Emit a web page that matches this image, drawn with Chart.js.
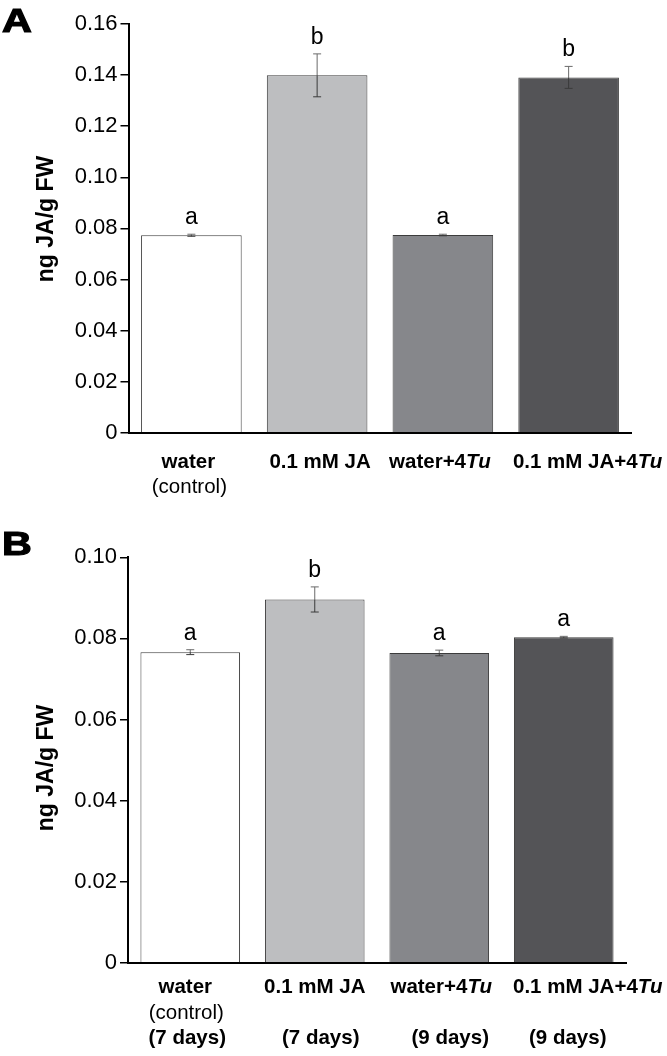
<!DOCTYPE html>
<html><head><meta charset="utf-8">
<script src="https://cdn.jsdelivr.net/npm/chart.js@4.4.1/dist/chart.umd.min.js"></script>
<style>
html,body{margin:0;padding:0;background:#fff;}
#wrap{position:relative;width:667px;height:1056px;overflow:hidden;}
.box{position:absolute;left:0;width:667px;height:528px;}
</style></head><body>
<div id="wrap">
<div class="box" style="top:0"><canvas id="cA"></canvas></div>
<div class="box" style="top:528px"><canvas id="cB"></canvas></div>
</div>
<script>
// ---------- DATA ----------
const categoriesA = [["water","(control)"],["0.1 mM JA"],["water+4_Tu_"],["0.1 mM JA+4_Tu_"]];
const valuesA = [0.0773, 0.1399, 0.0774, 0.1391];
const errorsA = [0.0004, 0.0084, 0.0003, 0.0043];
const lettersA = ["a","b","a","b"];
const yTicksA = [0, 0.02, 0.04, 0.06, 0.08, 0.10, 0.12, 0.14, 0.16];
const yTickLabelsA = ["0","0.02","0.04","0.06","0.08","0.10","0.12","0.14","0.16"];

const categoriesB = [["water","(control)","(7 days)"],["0.1 mM JA","","(7 days)"],["water+4_Tu_","","(9 days)"],["0.1 mM JA+4_Tu_","","(9 days)"]];
const valuesB = [0.0766, 0.0896, 0.0764, 0.0803];
const errorsB = [0.0006, 0.0031, 0.0007, 0.0002];
const lettersB = ["a","b","a","a"];
const yTicksB = [0, 0.02, 0.04, 0.06, 0.08, 0.10];
const yTickLabelsB = ["0","0.02","0.04","0.06","0.08","0.10"];

const yAxisTitle = "ng JA/g FW";
const panelLabels = ["A","B"];
const barColors = ["#ffffff","#bdbec0","#86878b","#545457"];

// ---------- STYLE / LAYOUT ----------
const FONT = "'Liberation Sans', Arial, Helvetica, sans-serif";

function drawRich(ctx, text, cx, y, weight, size) {
  const segs = text.split('_').map((t,k)=>({t:t, it:k%2===1})).filter(s=>s.t.length);
  let total = 0;
  segs.forEach(s=>{ ctx.font=(s.it?'italic ':'')+weight+' '+size+'px '+FONT; s.w=ctx.measureText(s.t).width; total+=s.w; });
  let x = cx - total/2;
  ctx.textAlign='left';
  segs.forEach(s=>{ ctx.font=(s.it?'italic ':'')+weight+' '+size+'px '+FONT; ctx.fillText(s.t,x,y); x+=s.w; });
}

function makePlugin(cfg) {
  return {
    id: 'custom'+cfg.panel,
    afterDatasetsDraw(chart) {
      const ctx = chart.ctx, ys = chart.scales.y, xs = chart.scales.x;
      const meta = chart.getDatasetMeta(0);
      ctx.save();
      meta.data.forEach((bar,i)=>{
        const v = cfg.values[i], e = cfg.errors[i];
        const yt = ys.getPixelForValue(v+e), yb = ys.getPixelForValue(v-e), ym = ys.getPixelForValue(v);
        ctx.lineWidth = 1;
        ctx.strokeStyle = '#6a6a6a';
        ctx.beginPath();
        ctx.moveTo(bar.x, yt); ctx.lineTo(bar.x, ym);
        ctx.moveTo(bar.x-4, yt); ctx.lineTo(bar.x+4, yt);
        ctx.stroke();
        ctx.strokeStyle = '#3a3a3a';
        ctx.beginPath();
        ctx.moveTo(bar.x, ym); ctx.lineTo(bar.x, yb);
        ctx.moveTo(bar.x-4, yb); ctx.lineTo(bar.x+4, yb);
        ctx.stroke();
        ctx.fillStyle = '#000'; ctx.font = '23px '+FONT;
        ctx.textAlign = 'center'; ctx.textBaseline = 'alphabetic';
        ctx.fillText(cfg.letters[i], bar.x, yt-10);
      });
      // category labels
      ctx.fillStyle = '#000'; ctx.textBaseline = 'alphabetic';
      cfg.categories.forEach((lines,i)=>{
        const cx = xs.getPixelForValue(i);
        lines.forEach((ln,j)=>{
          if (!ln) return;
          const sh = (cfg.shifts[i] && cfg.shifts[i][j]) || 0;
          drawRich(ctx, ln, cx+sh, cfg.lineBaselines[j], cfg.lineWeights[j], 20.5);
        });
      });
      // y axis title
      ctx.save();
      ctx.translate(53, cfg.titleCenterY);
      ctx.rotate(-Math.PI/2);
      ctx.font = 'bold 23px '+FONT; ctx.textAlign='center'; ctx.textBaseline='alphabetic';
      ctx.fillText(yAxisTitle, 0, 0);
      ctx.restore();
      // panel letter
      ctx.save();
      ctx.translate(2, cfg.panelBaseline);
      ctx.scale(1.25, 1);
      ctx.font = 'bold 33px '+FONT; ctx.textAlign='left'; ctx.textBaseline='alphabetic';
      ctx.fillText(cfg.panel, 0, 0);
      ctx.lineWidth = 1.2; ctx.strokeStyle = '#000';
      ctx.strokeText(cfg.panel, 0, 0);
      ctx.restore();
      ctx.restore();
    }
  };
}

function makeChart(id, cfg) {
  return new Chart(document.getElementById(id), {
    type: 'bar',
    data: {
      labels: cfg.categories.map(c=>c.filter(Boolean).join(' ').replace(/_/g,'')),
      datasets: [{
        data: cfg.values,
        backgroundColor: barColors,
        borderColor: '#3c3c3c',
        borderWidth: 1,
        borderSkipped: 'start',
        barPercentage: 0.8,
        categoryPercentage: 1.0
      }]
    },
    options: {
      responsive: true, maintainAspectRatio: false, animation: false, devicePixelRatio: 1,
      layout: { padding: { top: cfg.padTop, right: cfg.padRight, left: 0, bottom: 0 } },
      plugins: { legend: { display: false }, tooltip: { enabled: false } },
      scales: {
        x: {
          type: 'category', offset: true,
          grid: { display: false },
          border: { display: true, color: '#000', width: 2 },
          ticks: { display: false },
          afterFit(s) { s.height = cfg.xHeight; }
        },
        y: {
          min: 0, max: cfg.yTicks[cfg.yTicks.length-1],
          afterBuildTicks(s) { s.ticks = cfg.yTicks.map(v=>({value:v})); },
          ticks: {
            callback: (v,i)=>cfg.yTickLabels[i],
            font: { family: FONT, size: 22 }, color: '#000', padding: 3
          },
          grid: { display: true, drawOnChartArea: false, drawTicks: true, tickLength: 8, color: '#000', lineWidth: 1.5 },
          border: { display: true, color: '#000', width: 2 },
          afterFit(s) { s.width = cfg.yWidth; }
        }
      }
    },
    plugins: [makePlugin(cfg)]
  });
}

makeChart('cA', {
  panel: panelLabels[0], categories: categoriesA, values: valuesA, errors: errorsA, letters: lettersA,
  yTicks: yTicksA, yTickLabels: yTickLabelsA,
  padTop: 24, padRight: 35.5, xHeight: 95.3, yWidth: 128.5,
  lineBaselines: [468, 493], lineWeights: ['bold','normal'],
  shifts: [[-3,-2],[3],[-3],[19]],
  titleCenterY: 219, panelBaseline: 31.5
});
makeChart('cB', {
  panel: panelLabels[1], categories: categoriesB, values: valuesB, errors: errorsB, letters: lettersB,
  yTicks: yTicksB, yTickLabels: yTickLabelsB,
  padTop: 29.3, padRight: 41, xHeight: 93.3, yWidth: 128,
  lineBaselines: [465, 491, 516], lineWeights: ['bold','normal','bold'],
  shifts: [[-5,-4,-3],[0,0,6],[2,0,11],[24,0,4]],
  titleCenterY: 240, panelBaseline: 27
});
</script>
</body></html>
